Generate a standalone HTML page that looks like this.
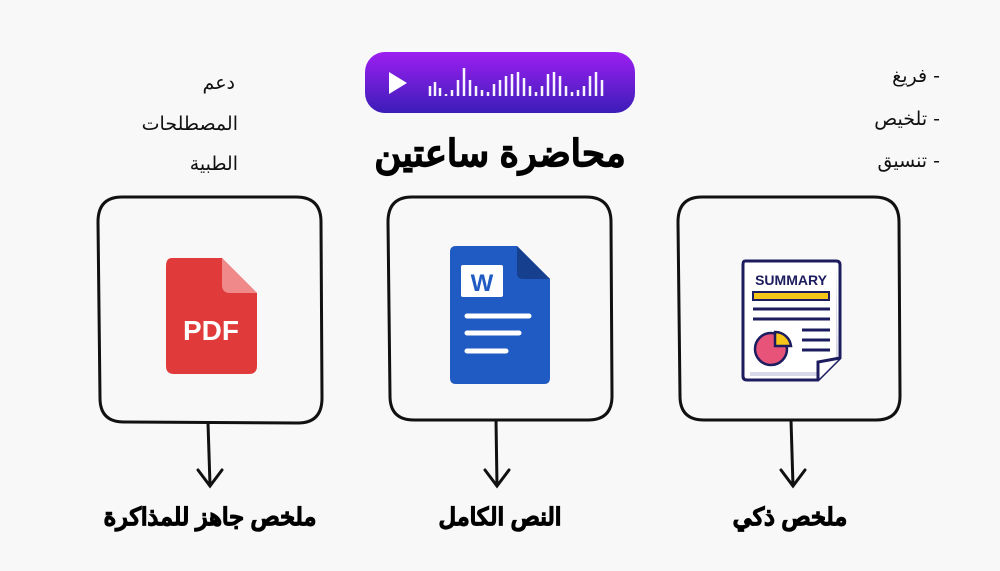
<!DOCTYPE html>
<html><head><meta charset="utf-8"><style>
body{margin:0;width:1000px;height:571px;background:#f8f8f8;position:relative;overflow:hidden;font-family:"Liberation Sans","Noto Sans CJK SC",sans-serif}
.t{position:absolute;white-space:nowrap;direction:rtl}
.b{font-weight:900;color:#000;-webkit-text-stroke:1px #000}
.h{font-family:"DejaVu Sans",sans-serif;font-size:19px;color:#111}
</style></head><body>
<svg width="1000" height="571" style="position:absolute;left:0;top:0">
<defs><linearGradient id="g" x1="0" y1="0" x2="0" y2="1"><stop offset="0" stop-color="#9d1ff2"/><stop offset="1" stop-color="#3b1db8"/></linearGradient></defs>
<rect x="365" y="52" width="270" height="61" rx="20" fill="url(#g)"/>
<polygon points="389,72 389,94 407,83" fill="#fff"/>
<g stroke="#fff" stroke-width="2.5" opacity="0.95">
<path d="M430 96v-10M435 96v-14M440 96v-8M446 96v-2M452 96v-6M458 96v-16M464 96v-28M470 96v-16M476 96v-10M482 96v-6M488 96v-4M494 96v-12M500 96v-16M506 96v-20M512 96v-22M518 96v-24M524 96v-18M530 96v-10M536 96v-4M542 96v-10M548 96v-22M554 96v-24M560 96v-20M566 96v-10M572 96v-4M578 96v-6M584 96v-10M590 96v-20M596 96v-24M602 96v-16"/>
</g>
<g fill="none" stroke="#111" stroke-width="3" stroke-linecap="round">
<path d="M122 197 Q98 197 98 222 L100 398 Q100 422 124 422 L298 423 Q322 423 322 398 L321 222 Q321 197 296 197 Z"/>
<path d="M208 423 L210 485 M198 470 L210 486 L222 470"/>
<path d="M412 197 Q388 197 388 222 L390 396 Q390 420 414 420 L588 420 Q612 420 612 396 L611 222 Q611 197 586 197 Z"/>
<path d="M496 420 L497 486 M485 470 L497 486 L509 470"/>
<path d="M702 197 Q678 197 678 222 L680 396 Q680 420 704 420 L876 420 Q900 420 900 396 L899 222 Q899 197 874 197 Z"/>
<path d="M791 420 L793 486 M781 470 L793 486 L805 470"/>
</g>
<path d="M172 258 H222 L257 293 V366 Q257 374 249 374 H174 Q166 374 166 366 V266 Q166 258 172 258 Z" fill="#e03a3a"/>
<path d="M222 258 L257 293 H230 Q222 293 222 285 Z" fill="#f08a8a"/>
<text x="211" y="340" font-size="28" font-weight="bold" fill="#fff" text-anchor="middle" font-family="Liberation Sans">PDF</text>
<path d="M456 246 H517 L550 279 V378 Q550 384 544 384 H456 Q450 384 450 378 V252 Q450 246 456 246 Z" fill="#1f5bc2"/>
<path d="M517 246 L550 279 H523 Q517 279 517 273 Z" fill="#163f8e"/>
<rect x="461" y="265" width="42" height="32" rx="2" fill="#fff"/>
<text x="482" y="291" font-size="24" font-weight="bold" fill="#1f5bc2" text-anchor="middle" font-family="Liberation Sans">W</text>
<g stroke="#fff" stroke-width="5" stroke-linecap="round"><path d="M467 316H529M467 333H519M467 351H506"/></g>
<path d="M745 261 H836 Q840 261 840 265 V358 L818 380 H747 Q743 380 743 376 V265 Q743 261 745 261 Z" fill="#fff" stroke="#1c1c5e" stroke-width="3"/>
<path d="M836 264 V356 L820 372 H750 V376 H818 L838 356Z" fill="#d8d8e8"/>
<path d="M818 380 L818 362 L840 358" fill="#fff" stroke="#1c1c5e" stroke-width="3"/>
<text x="791" y="285" font-size="14" font-weight="900" fill="#1c1c5e" text-anchor="middle" font-family="Liberation Sans">SUMMARY</text>
<rect x="753" y="292" width="76" height="8" fill="#f5c518" stroke="#1c1c5e" stroke-width="2"/>
<g stroke="#1c1c5e" stroke-width="3"><path d="M753 309H830M753 319H830M802 330H830M802 340H830M802 350H830"/></g>
<circle cx="771" cy="349" r="16" fill="#e8537a" stroke="#1c1c5e" stroke-width="2.5"/>
<path d="M775 332 A16 16 0 0 1 791 346 H775 Z" fill="#f5c518" stroke="#1c1c5e" stroke-width="2.5"/>
</svg>
<div class="t b" style="left:360px;top:132px;width:280px;text-align:center;font-size:37px">محاضرة ساعتين</div>
<div class="t b" style="left:70px;top:503px;width:280px;text-align:center;font-size:24px">ملخص جاهز للمذاكرة</div>
<div class="t b" style="left:410px;top:503px;width:180px;text-align:center;font-size:24px">النص الكامل</div>
<div class="t b" style="left:700px;top:503px;width:180px;text-align:center;font-size:24px">ملخص ذكي</div>
<div class="t h" style="right:765px;top:72px">دعم</div>
<div class="t h" style="right:762px;top:113px">المصطلحات</div>
<div class="t h" style="right:762px;top:153px">الطبية</div>
<div class="t h" style="left:850px;top:65px;width:90px;text-align:right">- فريغ</div>
<div class="t h" style="left:810px;top:108px;width:130px;text-align:right">- تلخيص</div>
<div class="t h" style="left:810px;top:150px;width:130px;text-align:right">- تنسيق</div>
</body></html>
